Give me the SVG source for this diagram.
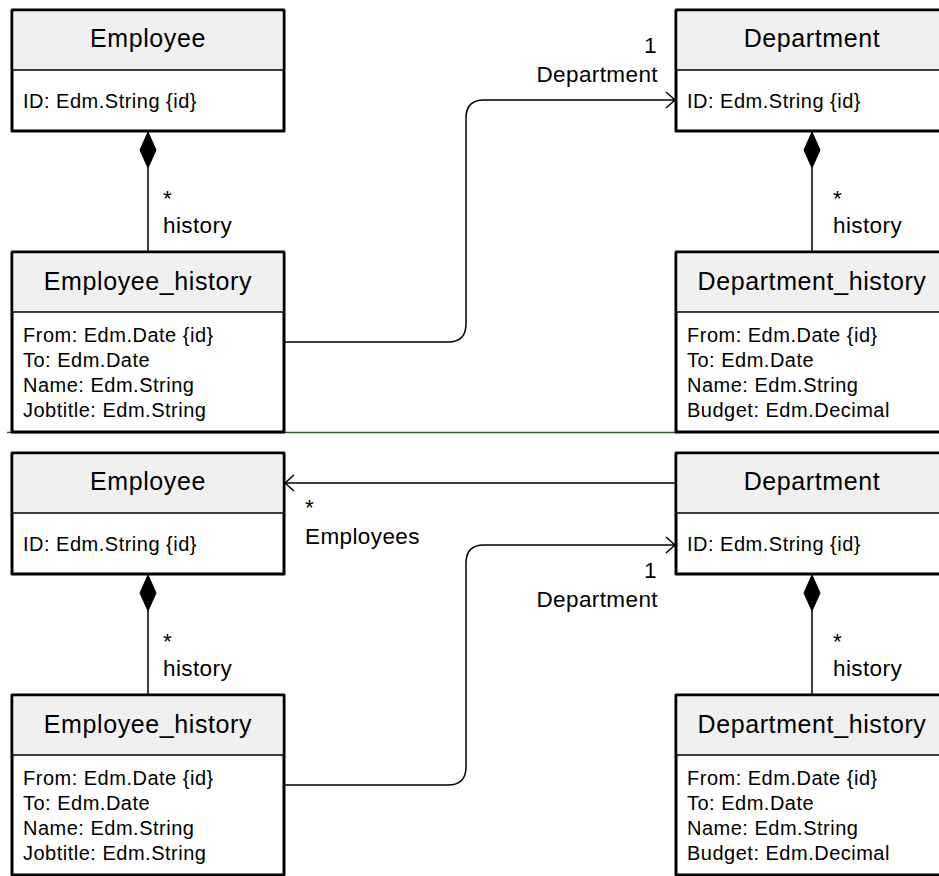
<svg xmlns="http://www.w3.org/2000/svg" width="939" height="876" viewBox="0 0 939 876">
<style>
.box{fill:#ffffff;stroke:#000;stroke-width:3;stroke-linejoin:round}
.hdr{fill:#f0f0f0;stroke:none}
.div{stroke:#000;stroke-width:1.5}
.title{font-family:"Liberation Sans",Arial,sans-serif;font-size:25px;letter-spacing:0.6px;text-anchor:middle;fill:#000}
.attr{font-family:"Liberation Sans",Arial,sans-serif;font-size:20px;letter-spacing:0.5px;fill:#000}
.lbl{font-family:"Liberation Sans",Arial,sans-serif;font-size:22.5px;letter-spacing:0.4px;fill:#000}
.end{text-anchor:end}
.conn{fill:none;stroke:#000;stroke-width:1.5}
.dia{fill:#000;stroke:#000;stroke-width:1}
</style>
<defs>
<marker id="open" markerWidth="12" markerHeight="20" refX="10" refY="9" orient="auto" markerUnits="userSpaceOnUse">
<path d="M1,1 L10,9 L1,17" fill="none" stroke="#000" stroke-width="1.5"/>
</marker>
</defs>
<rect width="939" height="876" fill="#fff"/>
<line x1="7" y1="432.5" x2="676" y2="432.5" stroke="#2f6030" stroke-width="1.5"/>

<g id="connectors">
<path class="conn" d="M284,342 H448 Q466,342 466,324 V118 Q466,100 484,100 H675" marker-end="url(#open)"/>
<line class="conn" x1="148" y1="168" x2="148" y2="252"/>
<path class="dia" d="M148,132 L156,150 L148,168 L140,150 Z"/>
<line class="conn" x1="812" y1="168" x2="812" y2="252"/>
<path class="dia" d="M812,132 L820,150 L812,168 L804,150 Z"/>
<text class="lbl end" x="657" y="53">1</text>
<text class="lbl end" x="658" y="82">Department</text>
<text class="lbl" x="163" y="206">*</text>
<text class="lbl" x="163" y="233">history</text>
<text class="lbl" x="833" y="206">*</text>
<text class="lbl" x="833" y="233">history</text>

<line class="conn" x1="676" y1="483" x2="285" y2="483" marker-end="url(#open)"/>
<path class="conn" d="M284,785 H448 Q466,785 466,767 V563 Q466,545 484,545 H675" marker-end="url(#open)"/>
<line class="conn" x1="148" y1="611" x2="148" y2="695"/>
<path class="dia" d="M148,575 L156,593 L148,611 L140,593 Z"/>
<line class="conn" x1="812" y1="611" x2="812" y2="695"/>
<path class="dia" d="M812,575 L820,593 L812,611 L804,593 Z"/>
<text class="lbl" x="305" y="515">*</text>
<text class="lbl" x="305" y="544">Employees</text>
<text class="lbl end" x="657" y="578">1</text>
<text class="lbl end" x="658" y="607">Department</text>
<text class="lbl" x="163" y="649">*</text>
<text class="lbl" x="163" y="676">history</text>
<text class="lbl" x="833" y="649">*</text>
<text class="lbl" x="833" y="676">history</text>
</g>

<g id="employee1">
<rect class="box" x="12" y="10" width="272" height="121"/>
<rect class="hdr" x="13.5" y="11.5" width="269" height="58.5"/>
<line class="div" x1="12" y1="70" x2="284" y2="70"/>
<text class="title" x="148" y="47">Employee</text>
<text class="attr" x="23" y="108">ID: Edm.String {id}</text>
</g>

<g id="employee_history1">
<rect class="box" x="12" y="252" width="272" height="180"/>
<rect class="hdr" x="13.5" y="253.5" width="269" height="58.5"/>
<line class="div" x1="12" y1="312" x2="284" y2="312"/>
<text class="title" x="148" y="290">Employee_history</text>
<text class="attr" x="23" y="342">From: Edm.Date {id}</text>
<text class="attr" x="23" y="367">To: Edm.Date</text>
<text class="attr" x="23" y="392">Name: Edm.String</text>
<text class="attr" x="23" y="417">Jobtitle: Edm.String</text>
</g>

<g id="department1">
<rect class="box" x="676" y="10" width="272" height="121"/>
<rect class="hdr" x="677.5" y="11.5" width="269" height="58.5"/>
<line class="div" x1="676" y1="70" x2="948" y2="70"/>
<text class="title" x="812" y="47">Department</text>
<text class="attr" x="687" y="108">ID: Edm.String {id}</text>
</g>

<g id="department_history1">
<rect class="box" x="676" y="252" width="272" height="180"/>
<rect class="hdr" x="677.5" y="253.5" width="269" height="58.5"/>
<line class="div" x1="676" y1="312" x2="948" y2="312"/>
<text class="title" x="812" y="290">Department_history</text>
<text class="attr" x="687" y="342">From: Edm.Date {id}</text>
<text class="attr" x="687" y="367">To: Edm.Date</text>
<text class="attr" x="687" y="392">Name: Edm.String</text>
<text class="attr" x="687" y="417">Budget: Edm.Decimal</text>
</g>

<g id="employee2">
<rect class="box" x="12" y="453" width="272" height="121"/>
<rect class="hdr" x="13.5" y="454.5" width="269" height="58.5"/>
<line class="div" x1="12" y1="513" x2="284" y2="513"/>
<text class="title" x="148" y="490">Employee</text>
<text class="attr" x="23" y="551">ID: Edm.String {id}</text>
</g>

<g id="employee_history2">
<rect class="box" x="12" y="695" width="272" height="180"/>
<rect class="hdr" x="13.5" y="696.5" width="269" height="58.5"/>
<line class="div" x1="12" y1="755" x2="284" y2="755"/>
<text class="title" x="148" y="733">Employee_history</text>
<text class="attr" x="23" y="785">From: Edm.Date {id}</text>
<text class="attr" x="23" y="810">To: Edm.Date</text>
<text class="attr" x="23" y="835">Name: Edm.String</text>
<text class="attr" x="23" y="860">Jobtitle: Edm.String</text>
</g>

<g id="department2">
<rect class="box" x="676" y="453" width="272" height="121"/>
<rect class="hdr" x="677.5" y="454.5" width="269" height="58.5"/>
<line class="div" x1="676" y1="513" x2="948" y2="513"/>
<text class="title" x="812" y="490">Department</text>
<text class="attr" x="687" y="551">ID: Edm.String {id}</text>
</g>

<g id="department_history2">
<rect class="box" x="676" y="695" width="272" height="180"/>
<rect class="hdr" x="677.5" y="696.5" width="269" height="58.5"/>
<line class="div" x1="676" y1="755" x2="948" y2="755"/>
<text class="title" x="812" y="733">Department_history</text>
<text class="attr" x="687" y="785">From: Edm.Date {id}</text>
<text class="attr" x="687" y="810">To: Edm.Date</text>
<text class="attr" x="687" y="835">Name: Edm.String</text>
<text class="attr" x="687" y="860">Budget: Edm.Decimal</text>
</g>
</svg>
